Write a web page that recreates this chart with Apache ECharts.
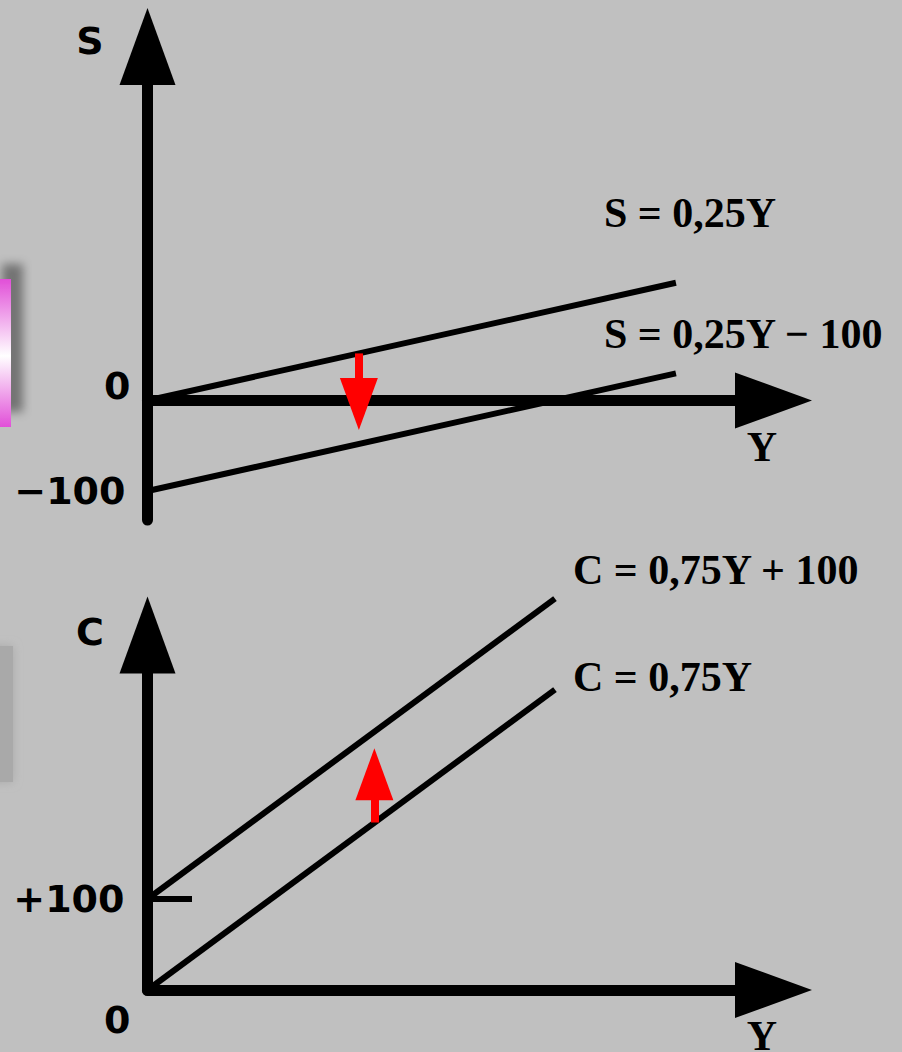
<!DOCTYPE html>
<html>
<head>
<meta charset="utf-8">
<script src="https://cdn.jsdelivr.net/npm/echarts@6/dist/echarts.min.js"></script>
<style>
    html, body { margin: 0; padding: 0; background: #c0c0c0; }
    #chart { width: 902px; height: 1052px; }
</style>
</head>
<body>
<div id="chart"></div>
<script>
    // upper chart: savings S(Y)
    var incomeS = [0, 520];
    var savings = [0, 130];            // S = 0,25Y
    var savingsLow = [-100, 30];       // S = 0,25Y - 100
    var sTicks = [-100, 0];

    // lower chart: consumption C(Y)
    var incomeC = [0, 440];
    var consumptionHigh = [100, 430];  // C = 0,75Y + 100
    var consumption = [0, 330];        // C = 0,75Y
    var cTicks = [0, 100];

    var lineNames = ['S = 0,25Y', 'S = 0,25Y − 100', 'C = 0,75Y + 100', 'C = 0,75Y'];

    // red shift arrows: income level, [from, to] (to = centre of the head)
    var sShiftY = 208;
    var sShift = [52, -4];
    var cShiftY = 245;
    var cShift = [184, 237];

    var sansFont = { fontFamily: 'DejaVu Sans', fontWeight: 'bold', fontSize: 38, color: '#000' };
    var serifFont = { fontFamily: 'Liberation Serif', fontWeight: 'bold', fontSize: 42, color: '#000' };

    function toPoints(xs, ys) {
        return xs.map(function(x, i) {
            return [x, ys[i]];
        });
    }

    function signed(v) {
        if (v < 0) return '−' + Math.abs(v);
        if (v > 0) return '+' + v;
        return '' + v;
    }

    function lineSeries(name, idx, xs, ys, offset) {
        return {
            name: name,
            type: 'line',
            xAxisIndex: idx,
            yAxisIndex: idx,
            data: toPoints(xs, ys),
            showSymbol: false,
            silent: true,
            clip: false,
            lineStyle: { color: '#000', width: 6, cap: 'butt' },
            endLabel: Object.assign({
                show: true,
                formatter: function() { return name; },
                distance: 0,
                offset: offset,
                align: 'left',
                verticalAlign: 'middle'
            }, serifFont)
        };
    }

    function shiftArrow(x, from, to) {
        return {
            silent: true,
            animation: false,
            symbol: ['none', 'triangle'],
            symbolSize: [38, 52],
            label: { show: false },
            lineStyle: { color: '#ff0000', width: 8, type: 'solid', opacity: 1 },
            data: [[{ coord: [x, from] }, { coord: [x, to] }]]
        };
    }

    function xAxisDef(idx, max, namePad) {
        return {
            gridIndex: idx,
            type: 'value',
            min: 0,
            max: max,
            name: '{y|Y}',
            nameLocation: 'end',
            nameGap: -11.5,
            nameTextStyle: Object.assign({
                align: 'center',
                verticalAlign: 'middle',
                rich: { y: Object.assign({ padding: [namePad, 0, 0, 0] }, serifFont) }
            }, serifFont),
            axisLine: {
                show: true,
                onZero: true,
                symbol: ['none', 'triangle'],
                symbolSize: [56, 77],
                lineStyle: { color: '#000', width: 11 }
            },
            axisTick: { show: false },
            axisLabel: { show: false },
            splitLine: { show: false }
        };
    }

    var chart = echarts.init(document.getElementById('chart'), null, { renderer: 'svg' });

    var option = {
        backgroundColor: '#c0c0c0',
        animation: false,
        graphic: [
            {
                type: 'rect',
                silent: true,
                z: -1,
                shape: { x: -10, y: 279, width: 21, height: 148 },
                style: {
                    fill: {
                        type: 'linear', x: 0, y: 0, x2: 0, y2: 1,
                        colorStops: [
                            { offset: 0, color: '#e14fd8' },
                            { offset: 0.52, color: '#ffffff' },
                            { offset: 1, color: '#e14fd8' }
                        ]
                    },
                    shadowBlur: 10,
                    shadowOffsetX: 12,
                    shadowOffsetY: -15,
                    shadowColor: 'rgba(0,0,0,0.4)'
                }
            },
            {
                type: 'rect',
                silent: true,
                z: -1,
                shape: { x: -20, y: 646, width: 33, height: 136 },
                style: { fill: '#a9a9a9', shadowBlur: 10, shadowColor: '#a9a9a9' }
            }
        ],
        grid: [
            { left: 147.5, right: 128.5, top: 46.5, height: 473.5, outerBoundsMode: 'none' },
            { left: 147.5, right: 128.5, top: 635, height: 355, outerBoundsMode: 'none' }
        ],
        xAxis: [
            xAxisDef(0, 616, 94),
            xAxisDef(1, 676, 92)
        ],
        yAxis: [
            {
                gridIndex: 0,
                type: 'value',
                min: -132,
                max: 391,
                name: 'S',
                nameLocation: 'end',
                nameGap: 5.5,
                nameTextStyle: Object.assign({ align: 'center', verticalAlign: 'middle', padding: [0, 115, 0, 0] }, sansFont),
                axisLine: {
                    show: true,
                    onZero: true,
                    symbol: ['none', 'triangle'],
                    symbolSize: [56, 77],
                    lineStyle: { color: '#000', width: 11 }
                },
                axisTick: { show: false },
                splitLine: { show: false },
                axisLabel: Object.assign({
                    customValues: sTicks,
                    margin: 17,
                    formatter: function(v) {
                        return v === 0 ? '{up|0}' : '{pad|' + signed(v) + '}';
                    },
                    rich: {
                        up: Object.assign({ padding: [0, 0, 28, 0] }, sansFont),
                        pad: Object.assign({ padding: [0, 5, 0, 0] }, sansFont)
                    }
                }, sansFont)
            },
            {
                gridIndex: 1,
                type: 'value',
                min: 0,
                max: 390,
                name: 'C',
                nameLocation: 'end',
                nameGap: 3,
                nameTextStyle: Object.assign({ align: 'center', verticalAlign: 'middle', padding: [0, 115, 0, 0] }, sansFont),
                axisLine: {
                    show: true,
                    onZero: true,
                    symbol: ['none', 'triangle'],
                    symbolSize: [56, 77],
                    lineStyle: { color: '#000', width: 11 }
                },
                axisTick: {
                    show: true,
                    inside: true,
                    length: 44.5,
                    customValues: [100],
                    lineStyle: { color: '#000', width: 6 }
                },
                splitLine: { show: false },
                axisLabel: Object.assign({
                    customValues: cTicks,
                    margin: 17,
                    formatter: function(v) {
                        return v === 0 ? '{down|0}' : '{pad|' + signed(v) + '}';
                    },
                    rich: {
                        down: Object.assign({ padding: [60, 0, 0, 0] }, sansFont),
                        pad: Object.assign({ padding: [0, 6, 0, 0] }, sansFont)
                    }
                }, sansFont)
            }
        ],
        series: [
            Object.assign(lineSeries(lineNames[0], 0, incomeS, savings, [-72, -70]), {
                markLine: shiftArrow(sShiftY, sShift[0], sShift[1])
            }),
            lineSeries(lineNames[1], 0, incomeS, savingsLow, [-72, -39]),
            Object.assign(lineSeries(lineNames[2], 1, incomeC, consumptionHigh, [18, -28.6]), {
                markLine: shiftArrow(cShiftY, cShift[0], cShift[1])
            }),
            lineSeries(lineNames[3], 1, incomeC, consumption, [18, -12.6])
        ]
    };

    chart.setOption(option);
</script>
</body>
</html>
